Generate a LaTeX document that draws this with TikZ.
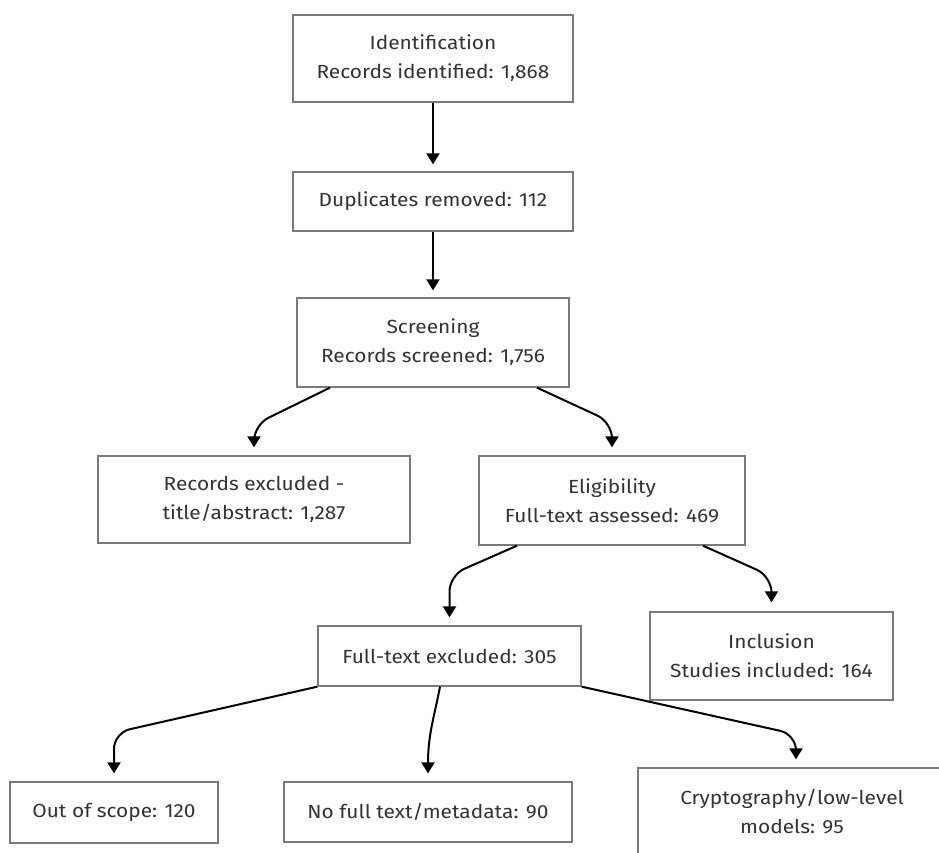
\documentclass[tikz,border=0pt]{standalone}
\usepackage{fontspec}
\setmainfont{Fira Sans}[FakeStretch=1.1]
\usetikzlibrary{arrows.meta,calc}
\definecolor{txt}{HTML}{333333}
\definecolor{brd}{HTML}{7A7A7A}
\tikzset{
  box/.style={draw=brd, line width=1.3pt, fill=white, text=txt, align=center,
    inner sep=0pt, font=\fontsize{19}{29}\selectfont},
  arr/.style={draw=black, line width=2pt, rounded corners=16pt,
    -{Triangle[width=13pt,length=11pt]}, shorten >=8pt},
}
\begin{document}
\begin{tikzpicture}[x=1pt,y=-1pt]
\useasboundingbox (0,0) rectangle (939,853);
\clip (0,0) rectangle (939,853);
\fill[white] (0,0) rectangle (939,853);
\node[box, minimum width=280pt, minimum height=87pt] (id) at (433,58.5) {Identification\\Records identified: 1,868};
\node[box, minimum width=280pt, minimum height=59pt] (dup) at (433,201.5) {Duplicates removed: 112};
\node[box, minimum width=272pt, minimum height=89pt] (sc) at (433,342.5) {Screening\\Records screened: 1,756};
\node[box, minimum width=312pt, minimum height=87pt] (rex) at (254,499.5) {Records excluded -\\title/abstract: 1,287};
\node[box, minimum width=266pt, minimum height=89pt] (el) at (612,500.5) {Eligibility\\Full-text assessed: 469};
\node[box, minimum width=263pt, minimum height=60pt] (fte) at (449.5,656) {Full-text excluded: 305};
\node[box, minimum width=243pt, minimum height=88pt] (inc) at (771.5,656) {Inclusion\\Studies included: 164};
\node[box, minimum width=308pt, minimum height=88pt] (cr) at (792,812) {Cryptography/low-level\\models: 95};
\node[box, minimum width=208pt, minimum height=61pt] (oos) at (114,812.5) {Out of scope: 120};
\node[box, minimum width=288pt, minimum height=60pt] (nft) at (428,812) {No full text/metadata: 90};

\draw[arr, shorten >=7pt] (id.south) -- (dup.north);
\draw[arr, shorten >=7pt] (dup.south) -- (sc.north);
\draw[arr] ($(sc.south)+(-103,0)$) -- ($(rex.north)+(0,-30.5)$) -- (rex.north);
\draw[arr] ($(sc.south)+(104,0)$) -- ($(el.north)+(0,-33)$) -- (el.north);
\draw[arr] ($(el.south)+(-95,0)$) -- ($(fte.north)+(0,-50)$) -- (fte.north);
\draw[arr, shorten >=9pt] ($(el.south)+(91,0)$) -- ($(inc.north)+(0,-35)$) -- (inc.north);
\draw[arr] (fte.south west) -- ($(oos.north)+(0,-48.5)$) -- (oos.north);
\draw[arr] ($(fte.south)+(-9.5,0)$) .. controls ($(fte.south)+(-15,29)$) and ($(nft.north)+(0,-47)$) .. (nft.north);
\draw[arr] (fte.south east) -- ($(cr.north)+(4,-33)$) -- ($(cr.north)+(4,0)$);
\end{tikzpicture}
\end{document}
